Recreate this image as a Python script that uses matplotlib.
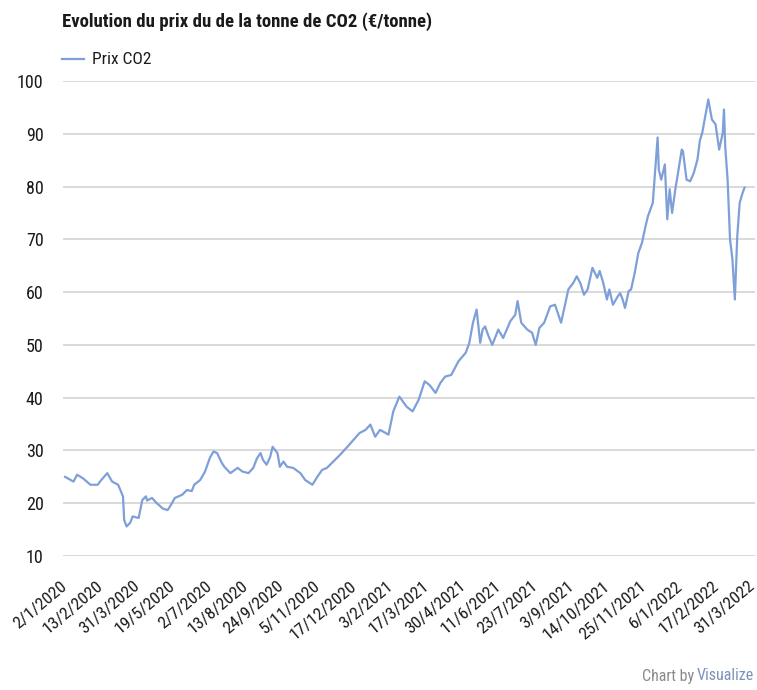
import matplotlib
matplotlib.use("Agg")
import matplotlib.pyplot as plt
from matplotlib import font_manager
from matplotlib.transforms import ScaledTranslation

# ---- data ----
title = "Evolution du prix du de la tonne de CO2 (€/tonne)"
series_name = "Prix CO2"
# trading-session number of each sampled observation (0 = 2/1/2020)
session = [0, 7, 10, 15, 21, 27, 30, 35, 39, 44, 48, 49, 51, 54, 56, 61, 64, 67, 68, 72,
           76, 81, 85, 87, 91, 97, 101, 105, 107, 112, 116, 120, 123, 126, 130, 132, 137,
           143, 147, 152, 156, 159, 162, 164, 167, 170, 172, 176, 178, 181, 184, 189, 195,
           199, 203, 205, 209, 213, 217, 221, 225, 228, 234, 239, 244, 249, 253, 257, 261,
           268, 272, 277, 283, 288, 293, 298, 302, 307, 311, 315, 320, 326, 332, 335, 338,
           341, 344, 346, 348, 351, 354, 359, 363, 369, 373, 375, 378, 383, 387, 390, 393,
           397, 402, 406, 411, 414, 417, 421, 424, 427, 430, 433, 437, 441, 443, 446, 449,
           451, 454, 458, 460, 462, 464, 467, 469, 472, 475, 478, 481, 483, 487, 488, 491,
           492, 494, 497, 499, 501, 503, 506, 507, 511, 512, 515, 518, 521, 524, 526, 528,
           531, 533, 536, 539, 542, 545, 546, 547, 549, 551, 553, 555, 557, 559, 561, 563]
prix = [25.0, 24.1, 25.4, 24.7, 23.5, 23.5, 24.4, 25.7, 24.1, 23.5, 21.3, 16.8, 15.6, 16.3,
        17.5, 17.2, 20.6, 21.3, 20.5, 21.0, 20.0, 19.0, 18.7, 19.4, 21.0, 21.6, 22.5, 22.3,
        23.5, 24.4, 26.0, 28.6, 29.8, 29.5, 27.6, 26.9, 25.7, 26.7, 26.0, 25.7, 26.7, 28.5,
        29.5, 28.2, 27.3, 28.8, 30.7, 29.5, 26.9, 27.9, 26.9, 26.7, 25.7, 24.4, 23.8, 23.5,
        25.0, 26.3, 26.7, 27.6, 28.5, 29.2, 30.7, 32.0, 33.3, 33.9, 34.9, 32.6, 33.9, 33.0,
        37.4, 40.2, 38.3, 37.4, 39.6, 43.1, 42.4, 40.9, 42.8, 44.0, 44.3, 46.9, 48.5, 50.4,
        54.2, 56.7, 50.4, 52.9, 53.5, 51.6, 50.0, 52.9, 51.3, 54.5, 55.7, 58.3, 54.2, 52.9,
        52.3, 50.0, 53.2, 54.2, 57.3, 57.6, 54.2, 57.3, 60.5, 61.7, 63.0, 61.7, 59.5, 60.5,
        64.6, 62.7, 64.0, 61.7, 58.6, 60.5, 57.6, 59.2, 59.8, 58.6, 57.0, 60.2, 60.5, 63.6,
        67.4, 69.3, 72.5, 74.4, 76.9, 80.0, 89.3, 83.2, 81.3, 84.2, 73.8, 79.5, 75.0, 80.0,
        81.3, 87.0, 86.7, 81.3, 81.0, 82.6, 85.1, 88.7, 90.2, 94.0, 96.5, 92.7, 91.8, 87.0,
        90.2, 94.6, 87.7, 81.3, 70.0, 66.2, 58.6, 70.6, 76.9, 78.5, 79.8]
tick_labels = ["2/1/2020", "13/2/2020", "31/3/2020", "19/5/2020", "2/7/2020", "13/8/2020",
               "24/9/2020", "5/11/2020", "17/12/2020", "3/2/2021", "17/3/2021", "30/4/2021",
               "11/6/2021", "23/7/2021", "3/9/2021", "14/10/2021", "25/11/2021", "6/1/2022",
               "17/2/2022", "31/3/2022"]
tick_sessions = [0, 30, 60, 90, 120, 150, 180, 210, 240, 270, 300, 330, 360, 390, 420,
                 450, 480, 510, 540, 570]
y_ticks = [10, 20, 30, 40, 50, 60, 70, 80, 90, 100]

# ---- style ----
avail = {f.name for f in font_manager.fontManager.ttflist}
fam = [f for f in ["Liberation Sans Narrow", "Roboto Condensed", "Liberation Sans", "DejaVu Sans"] if f in avail]
plt.rcParams["font.family"] = fam

line_color = "#7f9fd8"
grid_color = "#d9d9d9"
text_color = "#1a1a1a"

fig = plt.figure(figsize=(7.57, 6.90), dpi=100)
ax = fig.add_axes([63 / 757, 1 - 556 / 690, (755 - 63) / 757, (556 - 81) / 690])

ax.plot(session, prix, color=line_color, lw=1.6, solid_joinstyle="round")

ax.set_ylim(10, 100)
ax.set_xlim(-1.7, 571.7)
ax.set_yticks(y_ticks)
ax.set_yticklabels([str(v) for v in y_ticks], fontsize=13, color=text_color)
ax.set_xticks(tick_sessions)
ax.set_xticklabels(tick_labels, rotation=40, ha="right", va="top",
                   rotation_mode="anchor", fontsize=12.5, color=text_color)
ax.tick_params(axis="x", length=0, pad=16)
ax.tick_params(axis="y", length=0, pad=14)
shift = ScaledTranslation(-5 / 100, 0, fig.dpi_scale_trans)
for lab in ax.get_xticklabels():
    lab.set_transform(lab.get_transform() + shift)

ax.grid(axis="y", color=grid_color, lw=1.4)
ax.set_axisbelow(True)
for s in ax.spines.values():
    s.set_visible(False)

fig.text(62 / 757, 1 - 22 / 690, title, fontsize=13.5, fontweight="bold",
         color=text_color, va="center", ha="left")
# legend
fig.lines.append(plt.Line2D([62 / 757, 84 / 757], [1 - 59 / 690, 1 - 59 / 690],
                            transform=fig.transFigure, color=line_color, lw=1.6))
fig.text(92 / 757, 1 - 59 / 690, series_name, fontsize=12.5, color=text_color,
         va="center", ha="left")
# credit
fig.text(754 / 757, 1 - 676 / 690, "Visualize", fontsize=11.5, color="#7a93b8",
         va="center", ha="right")
fig.text(694 / 757, 1 - 676 / 690, "Chart by", fontsize=11.5, color="#8a8a8a",
         va="center", ha="right")

fig.savefig("out.png", dpi=100, facecolor="white")
